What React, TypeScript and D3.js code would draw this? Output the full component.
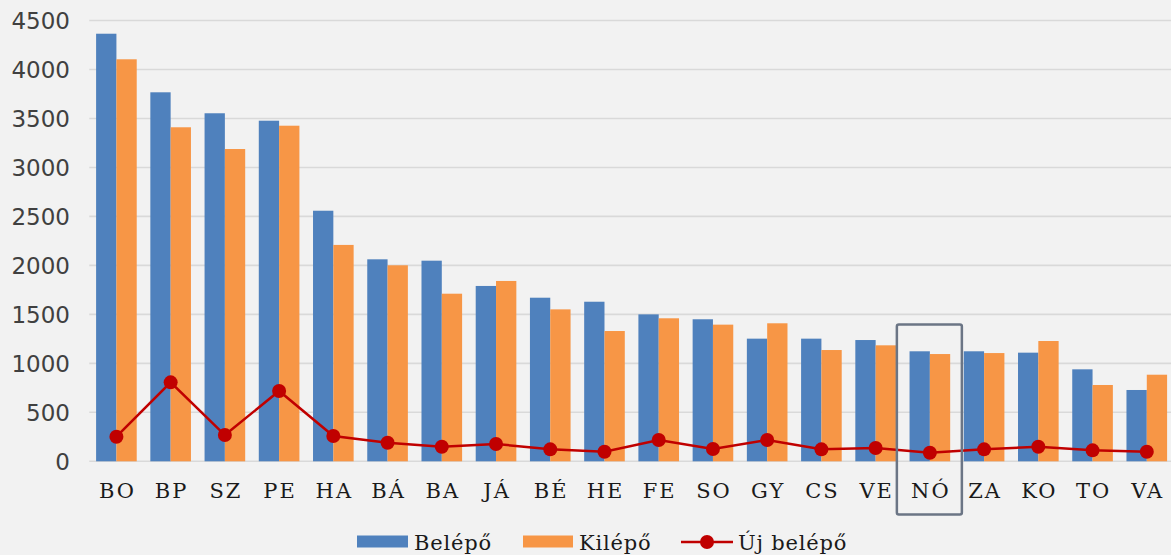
import React from "react";
import * as d3 from "d3";

const categories = ["BO","BP","SZ","PE","HA","BÁ","BA","JÁ","BÉ","HE","FE","SO","GY","CS","VE","NÓ","ZA","KO","TO","VA"];
const belepo = [4365,3767,3553,3477,2558,2062,2048,1790,1670,1629,1500,1450,1252,1252,1238,1123,1123,1109,939,728];
const kilepo = [4104,3410,3188,3426,2209,2001,1711,1841,1551,1330,1460,1395,1409,1136,1184,1095,1105,1228,779,884];
const ujBelepo = [251,806,268,718,258,190,149,177,122,98,217,126,217,122,136,88,122,149,112,98];
const yTicks = [0,500,1000,1500,2000,2500,3000,3500,4000,4500];
const seriesNames = ["Belépő","Kilépő","Új belépő"];
const highlighted = "NÓ";

const W = 1171, H = 555;
const BLUE = "#4f81bd", ORANGE = "#f79646", RED = "#c00000";

export default function App() {
  const x = d3.scaleBand<string>().domain(categories).range([89.3, 89.3 + 54.23 * 20]).paddingInner(0).paddingOuter(0);
  const y = d3.scaleLinear().domain([0, 4500]).range([461.3, 20.5]);
  const sub = d3.scaleBand<string>().domain(["b", "k"]).range([0, x.bandwidth()]).paddingOuter(0.335).paddingInner(0);
  const line = d3.line<number>().x((_, i) => x(categories[i])! + x.bandwidth() / 2).y((d) => y(d));
  const hx = x(highlighted)! + x.bandwidth() / 2;
  return (
    <svg width={W} height={H} style={{ position: "absolute", left: 0, top: 0, background: "#f2f2f2" }}>
      <rect x={0} y={0} width={W} height={H} fill="#f2f2f2" />
      {yTicks.map((t) => (
        <g key={t}>
          <line x1={89.3} x2={W} y1={y(t)} y2={y(t)} stroke="#d9d9d9" strokeWidth={1.6} />
          <text x={70} y={y(t)} dy="0.36em" textAnchor="end" fontFamily="DejaVu Sans" fontSize={23} fill="#404040">{t}</text>
        </g>
      ))}
      {categories.map((c, i) => (
        <g key={c}>
          <rect x={x(c)! + sub("b")!} y={y(belepo[i])} width={sub.bandwidth()} height={y(0) - y(belepo[i])} fill={BLUE} />
          <rect x={x(c)! + sub("k")!} y={y(kilepo[i])} width={sub.bandwidth()} height={y(0) - y(kilepo[i])} fill={ORANGE} />
          <text x={x(c)! + x.bandwidth() / 2 + 1} y={497.5} textAnchor="middle" fontFamily="DejaVu Serif" fontSize={21} letterSpacing={2} fill="#1a1a1a">{c}</text>
        </g>
      ))}
      <path d={line(ujBelepo)!} fill="none" stroke={RED} strokeWidth={2.5} />
      {ujBelepo.map((v, i) => (
        <circle key={i} cx={x(categories[i])! + x.bandwidth() / 2} cy={y(v)} r={7} fill={RED} />
      ))}
      <rect x={hx - 33} y={324.5} width={65} height={190} rx={2} fill="none" stroke="#6b7585" strokeWidth={2.5} />
      <g>
        <rect x={357} y={535.5} width={51} height={12} fill={BLUE} />
        <text x={414} y={549.5} fontFamily="DejaVu Serif" fontSize={21} letterSpacing={0.8} fill="#1a1a1a">{seriesNames[0]}</text>
        <rect x={523} y={535.5} width={50} height={12} fill={ORANGE} />
        <text x={579} y={549.5} fontFamily="DejaVu Serif" fontSize={21} letterSpacing={0.8} fill="#1a1a1a">{seriesNames[1]}</text>
        <line x1={681} x2={733} y1={542} y2={542} stroke={RED} strokeWidth={2.5} />
        <circle cx={707} cy={542} r={7} fill={RED} />
        <text x={738} y={549.5} fontFamily="DejaVu Serif" fontSize={21} letterSpacing={0.8} fill="#1a1a1a">{seriesNames[2]}</text>
      </g>
    </svg>
  );
}
